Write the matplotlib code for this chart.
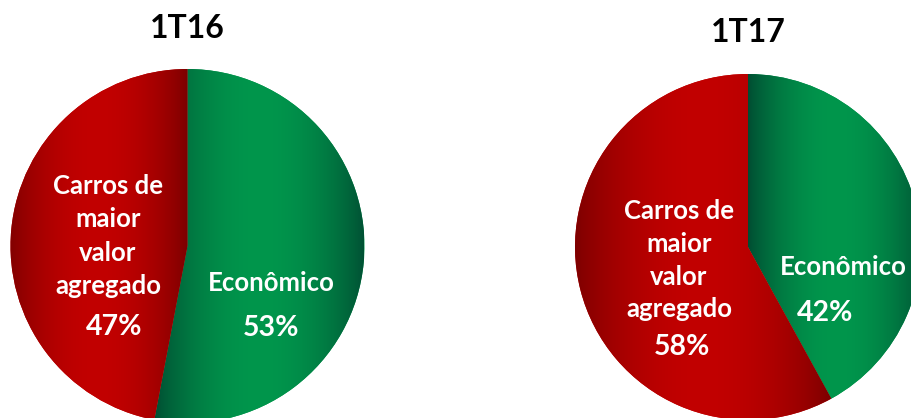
import numpy as np
import matplotlib
matplotlib.use("Agg")
import matplotlib.pyplot as plt
from matplotlib.colors import to_rgb

# ---- data ----
titles = ["1T16", "1T17"]
categories = ["Econômico", "Carros de maior valor agregado"]
values_1t16 = [53, 47]
values_1t17 = [42, 58]
pct_labels_1t16 = ["53%", "47%"]
pct_labels_1t17 = ["42%", "58%"]
red_label_lines = ["Carros de", "maior", "valor", "agregado"]

# ---- style ----
FONT = ["Lato", "DejaVu Sans"]
W, H = 912, 418
green_dark, green_bright = "#004c32", "#00964c"
red_dark, red_bright = "#7a0000", "#c20000"

fig = plt.figure(figsize=(W / 100, H / 100), dpi=100)
fig.patch.set_facecolor("white")


def gradient_fill(ax, wedge, dark, bright):
    verts = wedge.get_patch_transform().transform(wedge.get_path().vertices)
    x0, x1 = verts[:, 0].min(), verts[:, 0].max()
    y0, y1 = verts[:, 1].min(), verts[:, 1].max()
    n = 300
    t = np.linspace(0, 1, n)
    f = np.sin(np.pi * t) ** 0.8
    d = np.array(to_rgb(dark))
    b = np.array(to_rgb(bright))
    cols = d[None, :] + (b - d)[None, :] * f[:, None]
    img = np.stack([cols, cols], axis=0)
    im = ax.imshow(img, extent=[x0, x1, y0, y1], origin="lower",
                   aspect="auto", zorder=wedge.get_zorder() + 0.1,
                   interpolation="bilinear")
    im.set_clip_path(wedge)


def draw_pie(cx, cy, r, values):
    ax = fig.add_axes([(cx - r) / W, (H - cy - r) / H, 2 * r / W, 2 * r / H])
    wedges, _ = ax.pie(values, radius=1, startangle=90, counterclock=False,
                       colors=[green_bright, red_bright],
                       wedgeprops=dict(edgecolor="none", linewidth=0))
    gradient_fill(ax, wedges[0], green_dark, green_bright)
    gradient_fill(ax, wedges[1], red_dark, red_bright)
    ax.set_xlim(-1, 1)
    ax.set_ylim(-1, 1)
    ax.set_aspect("auto")
    ax.axis("off")
    return ax


draw_pie(187.5, 246, 177, values_1t16)
draw_pie(748, 247, 173, values_1t17)

# ---- text overlay in pixel coordinates ----
ov = fig.add_axes([0, 0, 1, 1], zorder=10)
ov.set_xlim(0, W)
ov.set_ylim(H, 0)
ov.axis("off")
ov.patch.set_alpha(0)

title_kw = dict(fontsize=23, fontweight="bold", color="black",
                family=FONT, ha="center", va="center")
ov.text(187, 28, titles[0], **title_kw)
ov.text(748, 33, titles[1], **title_kw)

lab_kw = dict(fontsize=18.5, fontweight="bold", color="white",
              family=FONT, ha="center", va="center")
pct_kw = dict(lab_kw, fontsize=20.5)

# left pie labels
for ln, y in zip(red_label_lines, [186, 219, 253, 286]):
    ov.text(108, y, ln, **lab_kw)
ov.text(114, 327, pct_labels_1t16[1], **pct_kw)
ov.text(271, 283, categories[0], **lab_kw)
ov.text(271, 328, pct_labels_1t16[0], **pct_kw)

# right pie labels
for ln, y in zip(red_label_lines, [211, 244, 277, 309]):
    ov.text(679, y, ln, **lab_kw)
ov.text(682, 347, pct_labels_1t17[1], **pct_kw)
ov.text(843, 267, categories[0], **lab_kw)
ov.text(825, 313, pct_labels_1t17[0], **pct_kw)

fig.savefig("out.png", dpi=100, facecolor="white")
